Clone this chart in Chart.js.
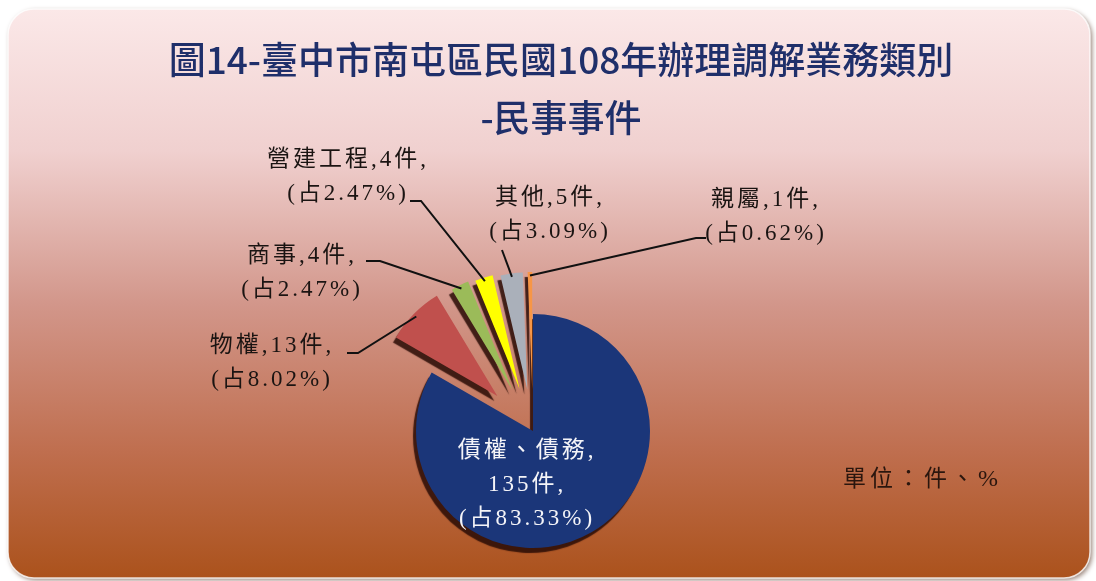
<!DOCTYPE html>
<html lang="zh-Hant">
<head>
<meta charset="UTF-8">
<title>圖14-臺中市南屯區民國108年辦理調解業務類別-民事事件</title>
<script src="https://cdn.jsdelivr.net/npm/chart.js"></script>
<style>
  html, body { margin: 0; padding: 0; background: #fff; }
  #wrap { position: relative; width: 1096px; height: 581px; }
</style>
</head>
<body>
<div id="wrap"><canvas id="pie" width="1096" height="581"></canvas></div>
<script>
// data (total 162 cases)
const categories = ['債權、債務', '物權', '商事', '營建工程', '其他', '親屬'];
const counts = [135, 13, 4, 4, 5, 1];
const shares = ['83.33', '8.02', '2.47', '2.47', '3.09', '0.62'];
const sliceColors = ['#1b3679', '#c0504d', '#9bbb59', '#ffff00', '#aab0ba', '#f79646'];
const explode = [0, 200, 184, 176, 168, 168];   // chart.js moves a slice by offset/4

const titleLines = ['圖14-臺中市南屯區民國108年辦理調解業務類別', '-民事事件'];
const unitNote = ['單位：件、', '%'];

const R = 117;

// where each label sits and where its leader line leaves the text
const labelSpots = [
  { x: 527, y: 451, inside: true },
  { x: 272, y: 346, pts: [[347, 353], [358, 353]] },
  { x: 302, y: 256, pts: [[366, 261], [380, 261]] },
  { x: 348, y: 160, pts: [[410, 201], [421, 201]] },
  { x: 550, y: 198, pts: [[502, 250]] },
  { x: 766, y: 200, pts: [[706, 238], [696, 238]] }
];

const labelFont = '23px "Liberation Serif", "Noto Sans CJK TC", serif';

function roundRect(ctx, x, y, w, h, r) {
  ctx.beginPath();
  ctx.moveTo(x + r, y);
  ctx.arcTo(x + w, y, x + w, y + h, r);
  ctx.arcTo(x + w, y + h, x, y + h, r);
  ctx.arcTo(x, y + h, x, y, r);
  ctx.arcTo(x, y, x + w, y, r);
  ctx.closePath();
}

const frame = {
  id: 'frame',
  beforeDraw(chart) {
    const ctx = chart.ctx;
    ctx.save();
    ctx.fillStyle = '#fff';
    ctx.fillRect(0, 0, chart.width, chart.height);
    const g = ctx.createLinearGradient(0, 9, 0, 578);
    g.addColorStop(0, '#fbe8e8');
    g.addColorStop(0.25, '#f0d0cf');
    g.addColorStop(0.52, '#d2968a');
    g.addColorStop(0.78, '#bf6e4e');
    g.addColorStop(1, '#ab521c');
    roundRect(ctx, 8, 9, 1082, 569, 26);
    ctx.shadowColor = 'rgba(60,20,0,0.55)';
    ctx.shadowBlur = 5;
    ctx.shadowOffsetX = 2;
    ctx.shadowOffsetY = 2;
    ctx.fillStyle = g;
    ctx.fill();
    ctx.shadowColor = 'transparent';
    ctx.lineWidth = 1.5;
    ctx.strokeStyle = 'rgba(255,255,255,0.8)';
    ctx.stroke();
    ctx.restore();
  },
  // chart.js grows and narrows exploded slices; undo that so they keep radius R and their full angle
  afterDatasetUpdate(chart, args) {
    args.meta.data.forEach(el => {
      const off = (el.options.offset || 0) / 4;
      const fix = 1 - Math.sin(Math.min(Math.PI, el.circumference || 0));
      const ro = off * fix;
      el.outerRadius = R - ro;
      const widen = ro / (2 * Math.PI * R);
      el.startAngle -= widen;
      el.endAngle += widen;
    });
  },
  beforeDatasetDraw(chart) {
    const ctx = chart.ctx;
    ctx.save();
    ctx.shadowColor = 'rgba(40,10,5,0.85)';
    ctx.shadowBlur = 1;
    ctx.shadowOffsetX = -3;
    ctx.shadowOffsetY = 5;
  },
  afterDatasetDraw(chart) {
    chart.ctx.restore();
  },
  afterDatasetsDraw(chart) {
    const ctx = chart.ctx;
    const arcs = chart.getDatasetMeta(0).data;
    ctx.save();
    ctx.font = labelFont;
    ctx.letterSpacing = '3px';
    ctx.textAlign = 'center';
    ctx.textBaseline = 'middle';
    arcs.forEach((el, i) => {
      const spot = labelSpots[i];
      let lines;
      if (spot.inside) {
        lines = [categories[i] + ',', counts[i] + '件,', '(占' + shares[i] + '%)'];
        ctx.fillStyle = '#f4f4f8';
      } else {
        lines = [categories[i] + ',' + counts[i] + '件,', '(占' + shares[i] + '%)'];
        ctx.fillStyle = '#1a1412';
        const p = el.getProps(['x', 'y', 'startAngle', 'endAngle']);
        const mid = (p.startAngle + p.endAngle) / 2;
        const d = el.options.offset / 4 + R * 0.97;
        const ex = p.x + Math.cos(mid) * d;
        const ey = p.y + Math.sin(mid) * d;
        ctx.beginPath();
        ctx.moveTo(spot.pts[0][0], spot.pts[0][1]);
        spot.pts.slice(1).forEach(q => ctx.lineTo(q[0], q[1]));
        ctx.lineTo(ex, ey);
        ctx.lineWidth = 2;
        ctx.strokeStyle = '#111';
        ctx.stroke();
      }
      lines.forEach((t, k) => ctx.fillText(t, spot.x, spot.y + k * 34));
    });
    ctx.restore();
  },
  afterDraw(chart) {
    const ctx = chart.ctx;
    ctx.save();
    ctx.textAlign = 'center';
    ctx.textBaseline = 'middle';
    ctx.fillStyle = '#1f2f6a';
    ctx.font = '500 37px "Noto Sans CJK TC", sans-serif';
    ctx.fillText(titleLines[0], 561, 60);
    ctx.fillText(titleLines[1], 561, 118);
    ctx.font = labelFont;
    ctx.letterSpacing = '4px';
    ctx.fillStyle = '#2a160e';
    ctx.textAlign = 'left';
    ctx.fillText(unitNote[0], 843, 480);
    const w = ctx.measureText(unitNote[0]).width;
    ctx.font = '24px "Liberation Serif", serif';
    ctx.fillText(unitNote[1], 843 + w, 480);
    ctx.restore();
  }
};

new Chart(document.getElementById('pie'), {
  type: 'pie',
  data: {
    labels: categories,
    datasets: [{
      data: counts,
      backgroundColor: sliceColors,
      borderWidth: 0,
      offset: explode
    }]
  },
  options: {
    responsive: false,
    animation: false,
    radius: R,
    layout: { padding: { left: 0, right: 30, top: 281, bottom: 0 } },
    plugins: {
      legend: { display: false },
      tooltip: { enabled: false },
      title: { display: false }
    }
  },
  plugins: [frame]
});
</script>
</body>
</html>
